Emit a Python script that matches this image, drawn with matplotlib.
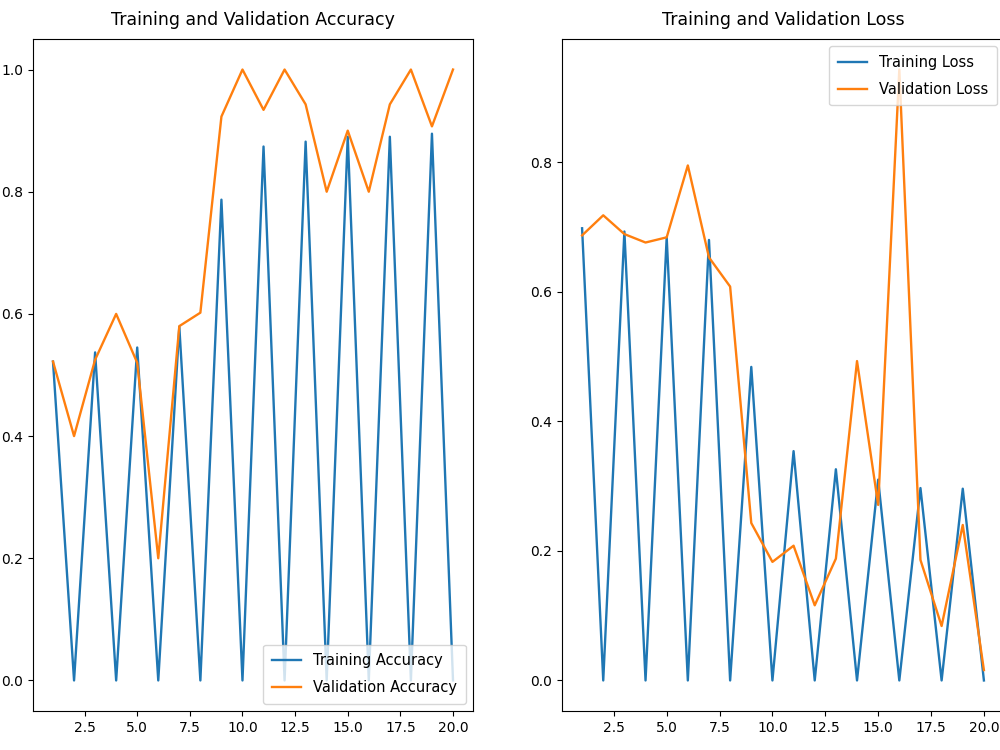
import matplotlib
matplotlib.use("Agg")
import matplotlib.pyplot as plt

# Epochs and metrics
epochs = list(range(1, 21))

train_acc = [0.522, 0.0, 0.537, 0.0, 0.545, 0.0, 0.579, 0.0, 0.787, 0.0,
             0.874, 0.0, 0.882, 0.0, 0.890, 0.0, 0.890, 0.0, 0.895, 0.0]
val_acc = [0.522, 0.400, 0.525, 0.600, 0.520, 0.200, 0.580, 0.602, 0.923, 1.0,
           0.934, 1.0, 0.943, 0.800, 0.900, 0.800, 0.943, 1.0, 0.907, 1.0]

train_loss = [0.698, 0.0, 0.693, 0.0, 0.684, 0.0, 0.680, 0.0, 0.484, 0.0,
              0.354, 0.0, 0.326, 0.0, 0.310, 0.0, 0.297, 0.0, 0.296, 0.0]
val_loss = [0.687, 0.718, 0.689, 0.676, 0.684, 0.795, 0.653, 0.608, 0.243, 0.183,
            0.208, 0.116, 0.188, 0.493, 0.271, 0.943, 0.186, 0.084, 0.240, 0.016]


def main():
    fig = plt.figure(figsize=(10, 7.5), dpi=100)
    legend_kw = dict(fontsize=10.5, labelspacing=0.8, borderpad=0.6)

    # Left panel: accuracy
    ax1 = fig.add_axes([0.033, 0.052, 0.440, 0.896])
    ax1.plot(epochs, train_acc, label="Training Accuracy", linewidth=1.7)
    ax1.plot(epochs, val_acc, label="Validation Accuracy", linewidth=1.7)
    ax1.set_title("Training and Validation Accuracy", fontsize=12.5, pad=10)
    ax1.legend(loc="lower right", **legend_kw)
    ax1.tick_params(labelsize=10)

    # Right panel: loss
    ax2 = fig.add_axes([0.562, 0.052, 0.442, 0.896])
    ax2.plot(epochs, train_loss, label="Training Loss", linewidth=1.7)
    ax2.plot(epochs, val_loss, label="Validation Loss", linewidth=1.7)
    ax2.set_title("Training and Validation Loss", fontsize=12.5, pad=10)
    ax2.legend(loc="upper right", **legend_kw)
    ax2.tick_params(labelsize=10)

    fig.savefig("out.png", dpi=100)
    plt.close(fig)


if __name__ == "__main__":
    main()
